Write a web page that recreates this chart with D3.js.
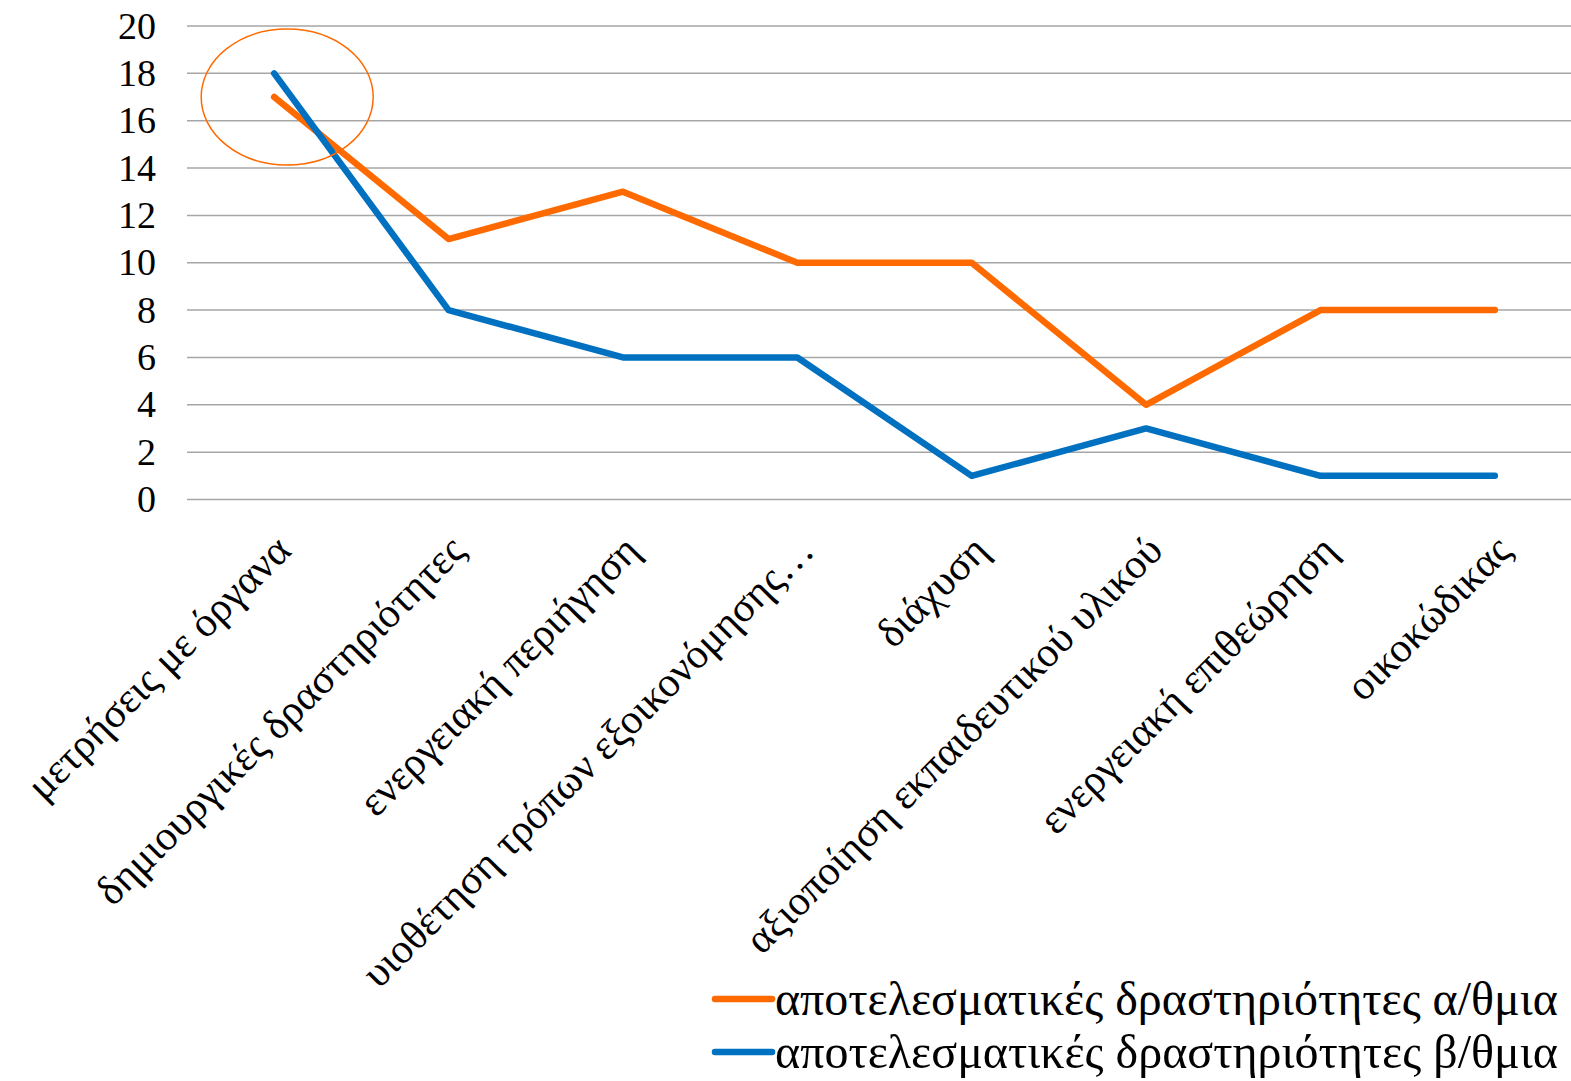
<!DOCTYPE html>
<html><head><meta charset="utf-8">
<script src="https://cdn.jsdelivr.net/npm/d3@7"></script>
<style>body{margin:0;background:#fff}svg{display:block}</style>
</head><body><svg id="c" width="1571" height="1081"></svg>
<script>
const categories = ["μετρήσεις με όργανα","δημιουργικές δραστηριότητες","ενεργειακή περιήγηση","υιοθέτηση τρόπων εξοικονόμησης…","διάχυση","αξιοποίηση εκπαιδευτικού υλικού","ενεργειακή επιθεώρηση","οικοκώδικας"];
const seriesA = [17,11,13,10,10,4,8,8];
const seriesB = [18,8,6,6,1,3,1,1];
const seriesNames = ["αποτελεσματικές δραστηριότητες α/θμια","αποτελεσματικές δραστηριότητες β/θμια"];
const yTicks = [0,2,4,6,8,10,12,14,16,18,20];
const colors = ["#FF6A00","#0070C0"];
const FONT = '"Liberation Serif", "Times New Roman", serif';

const svg = d3.select("#c");
const x = d3.scaleBand().domain(categories).range([187,1582]);
const y = d3.scaleLinear().domain([0,20]).range([499.5,26]);
const cx = d => x(d)+x.bandwidth()/2;

svg.append("g").selectAll("line").data(yTicks).join("line")
  .attr("x1",187).attr("x2",1571).attr("y1",d=>y(d)).attr("y2",d=>y(d))
  .attr("stroke","#a6a6a6").attr("stroke-width",1.5);
svg.append("g").selectAll("text").data(yTicks).join("text")
  .attr("x",156).attr("y",d=>y(d)).attr("dy","0.33em").attr("text-anchor","end")
  .style("font-family",FONT).attr("font-size",38).attr("fill","#000").text(d=>d);

svg.append("g").selectAll("text").data(categories).join("text")
  .attr("transform",d=>`translate(${cx(d)-2},${532}) rotate(-45)`)
  .attr("text-anchor","end").attr("dy","0.7em").style("font-family",FONT).attr("font-size",42).attr("fill","#000").text(d=>d);

const line = d3.line().x((d,i)=>cx(categories[i])).y(d=>y(d));
[seriesA,seriesB].forEach((s,k)=>{
  svg.append("path").datum(s).attr("d",line).attr("fill","none")
    .attr("stroke",colors[k]).attr("stroke-width",6.5).attr("stroke-linecap","round").attr("stroke-linejoin","round");
});

svg.append("ellipse").attr("cx",cx(categories[0])+13).attr("cy",y(17)).attr("rx",86).attr("ry",68)
  .attr("fill","none").attr("stroke",colors[0]).attr("stroke-width",1.5);

const lg = svg.append("g");
seriesNames.forEach((n,k)=>{
  const yy = 999 + k*53;
  lg.append("line").attr("x1",715).attr("x2",772).attr("y1",yy).attr("y2",yy)
    .attr("stroke",colors[k]).attr("stroke-width",6.5).attr("stroke-linecap","round");
  const t = lg.append("text").attr("x",775).attr("y",yy).attr("dy","0.33em").style("font-family",FONT).attr("font-size",40)
    .attr("fill","#000").text(n);
  const w = t.node().getComputedTextLength();
  t.attr("font-size", 40*783/w);
});
</script></body></html>
